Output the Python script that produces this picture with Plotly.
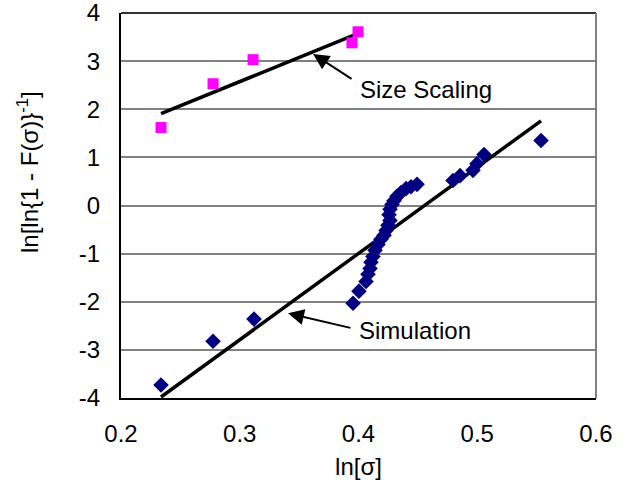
import plotly.graph_objects as go

# Simulation data (navy diamonds)
sim_x = [0.2337, 0.2775, 0.3120, 0.3954, 0.4004, 0.4063, 0.4080, 0.4097, 0.4105,
         0.4122, 0.4139, 0.4164, 0.4189, 0.4215, 0.4232, 0.4248, 0.4265, 0.4257,
         0.4265, 0.4282, 0.4299, 0.4324, 0.4358, 0.4400, 0.4442, 0.4493,
         0.4796, 0.4855, 0.4964, 0.4998, 0.5057, 0.5537]
sim_y = [-3.73, -2.82, -2.36, -2.03, -1.78, -1.58, -1.43, -1.31, -1.18,
         -1.06, -0.93, -0.81, -0.70, -0.62, -0.52, -0.41, -0.31, -0.19,
         -0.08, 0.02, 0.10, 0.19, 0.27, 0.35, 0.39, 0.44,
         0.52, 0.62, 0.73, 0.87, 1.06, 1.35]

# Size scaling data (magenta squares)
size_x = [0.2337, 0.2775, 0.3112, 0.3945, 0.3996]
size_y = [1.62, 2.53, 3.03, 3.38, 3.61]

# Fitted trend lines (end points)
sim_fit_x = [0.2337, 0.5537]
sim_fit_y = [-3.98, 1.76]
size_fit_x = [0.2337, 0.4013]
size_fit_y = [1.91, 3.59]

# Arrow pointers: tail and tip
size_arrow = dict(tail=(0.3954, 2.61), tip=(0.3617, 3.15))
sim_arrow = dict(tail=(0.3945, -2.55), tip=(0.3406, -2.24))

x_ticks = [0.2, 0.3, 0.4, 0.5, 0.6]
y_ticks = [-4, -3, -2, -1, 0, 1, 2, 3, 4]

FONT = "Liberation Sans, Arial, sans-serif"
FS = 24

fig = go.Figure()
fig.add_trace(go.Scatter(x=sim_fit_x, y=sim_fit_y, mode="lines",
                         line=dict(color="black", width=3.5), showlegend=False))
fig.add_trace(go.Scatter(x=size_fit_x, y=size_fit_y, mode="lines",
                         line=dict(color="black", width=3.5), showlegend=False))
fig.add_trace(go.Scatter(x=sim_x, y=sim_y, mode="markers",
                         marker=dict(symbol="diamond", size=12, color="#000080",
                                     line=dict(width=0)), showlegend=False))
fig.add_trace(go.Scatter(x=size_x, y=size_y, mode="markers",
                         marker=dict(symbol="square", size=11, color="#FF00FF",
                                     line=dict(width=0)), showlegend=False))

# Arrows
for arr in (size_arrow, sim_arrow):
    fig.add_annotation(x=arr["tip"][0], y=arr["tip"][1],
                       ax=arr["tail"][0], ay=arr["tail"][1],
                       xref="x", yref="y", axref="x", ayref="y", text="",
                       showarrow=True, arrowhead=2, arrowsize=1.6, arrowwidth=2,
                       arrowcolor="black")

# Labels
fig.add_annotation(x=0.3996, y=2.42, xref="x", yref="y", text="Size Scaling",
                   showarrow=False, xanchor="left", yanchor="middle",
                   font=dict(family=FONT, size=FS, color="black"))
fig.add_annotation(x=0.3987, y=-2.59, xref="x", yref="y", text="Simulation",
                   showarrow=False, xanchor="left", yanchor="middle",
                   font=dict(family=FONT, size=FS, color="black"))
# Y axis title
fig.add_annotation(x=(28 - 121) / 475, y=(398 - 172) / 385, xref="paper", yref="paper",
                   text="ln[ln{1 - F(σ)}<sup>-1</sup>]", textangle=-90,
                   showarrow=False, xanchor="center", yanchor="middle",
                   font=dict(family=FONT, size=FS, color="black"))

fig.update_layout(
    width=643, height=489,
    margin=dict(l=121, r=47, t=13, b=91, autoexpand=False),
    paper_bgcolor="white", plot_bgcolor="white",
    font=dict(family=FONT, size=FS, color="black"),
    xaxis=dict(range=[0.2, 0.6], tickvals=x_ticks, ticktext=[str(v) for v in x_ticks],
               showgrid=False, zeroline=False, showline=True, linecolor="black",
               linewidth=2, ticks="", ticklabelstandoff=13, automargin=False,
               title=dict(text="ln[σ]", standoff=12,
                          font=dict(family=FONT, size=FS, color="black"))),
    yaxis=dict(range=[-4, 4], tickvals=y_ticks, ticktext=[str(v) for v in y_ticks],
               showgrid=True, gridcolor="#808080", gridwidth=1.5, zeroline=False,
               showline=True, linecolor="black", linewidth=2, ticks="",
               ticklabelstandoff=14, ticklabeloverflow="allow", automargin=False),
    shapes=[
        dict(type="line", xref="paper", yref="paper", x0=0, x1=1, y0=1, y1=1,
             line=dict(color="#333333", width=2)),
        dict(type="line", xref="paper", yref="paper", x0=1, x1=1, y0=0, y1=1,
             line=dict(color="#808080", width=2)),
    ],
)

fig.write_html("out.html")
